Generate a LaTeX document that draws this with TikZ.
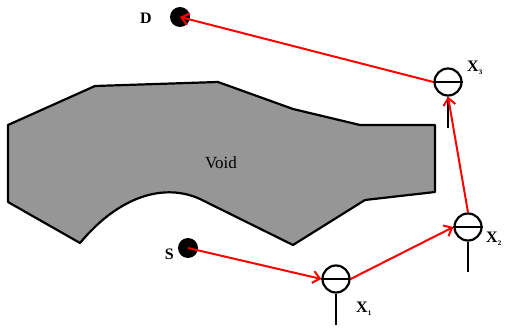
\documentclass[tikz,border=0pt]{standalone}
\usepackage{fontspec}
\setmainfont{Liberation Serif}
\usetikzlibrary{arrows.meta}
\begin{document}
\begin{tikzpicture}[x=1pt,y=-1pt,
  dot/.style={circle,fill=black,inner sep=0pt,minimum size=20pt},
  sensor/.style={circle,draw=black,line width=2.2pt,fill=white,inner sep=0pt,minimum size=27pt},
  ray/.style={draw=red,line width=2pt,-{Straight Barb[length=7pt,width=12pt,line width=2pt]}},
  lbl/.style={font=\fontsize{16}{16}\selectfont\bfseries,inner sep=0pt},
  blk/.style={line width=2.2pt}]
\useasboundingbox (0,0) rectangle (505,328);
% void
\draw[blk,fill=black!41,line join=round] (8,125) -- (95,86) -- (218,82) -- (293,109) -- (360,125)
  -- (435,125) -- (435,192) -- (365,200) -- (293,245) -- (200,199)
  .. controls (165,183) and (120,195) .. (80,243) -- (8,202) -- cycle;
\node[font=\fontsize{17}{17}\selectfont] (void) at (221,163) {Void};
% points
\node[dot] (D) at (180,17) {};
\node[lbl,anchor=east] (Dl) at (152,18) {D};
\node[dot] (S) at (188,248) {};
\node[lbl,anchor=east] (Sl) at (174,254) {S};
% sensors
\node[sensor] (X1) at (336,279) {};
\node[sensor] (X2) at (468,227) {};
\node[sensor] (X3) at (448,82) {};
\foreach \n/\e in {X1/325,X2/272,X3/128}{
  \draw[blk] (\n.west) -- (\n.east);
  \coordinate (\n e) at (\n.south |- 0,\e);
  \draw[blk] (\n.south) -- (\n e);
}
\node[lbl,anchor=west] (X1l) at (356,309) {X\raisebox{-2.5pt}{\fontsize{7}{7}\selectfont 1}};
\node[lbl,anchor=west] (X2l) at (486,239) {X\raisebox{-2.5pt}{\fontsize{7}{7}\selectfont 2}};
\node[lbl,anchor=west] (X3l) at (467,68) {X\raisebox{-2.5pt}{\fontsize{7}{7}\selectfont 3}};
% rays
\draw[ray] (S.center) -- (X1.west);
\draw[ray] (X1.east) -- (X2.west);
\draw[ray] (X2.north) -- (X3.south);
\draw[ray] (X3.west) -- (D.center);
\end{tikzpicture}
\end{document}
